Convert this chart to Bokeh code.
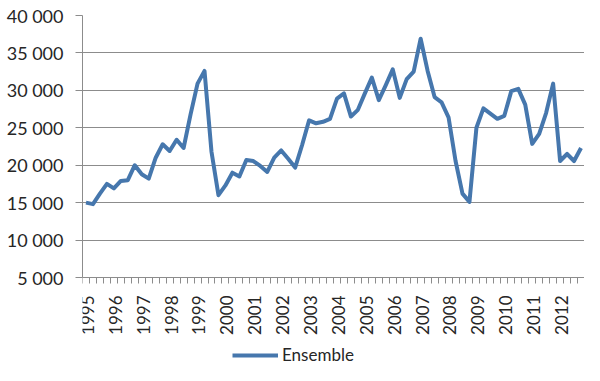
import math
from bokeh.plotting import figure
from bokeh.models import FixedTicker, Legend, LegendItem, Range1d
from bokeh.embed import file_html
from bokeh.resources import INLINE

# ---- data (quarterly, 1995 Q1 .. 2012 Q4) ----
years = list(range(1995, 2013))
quarters = ["T1", "T2", "T3", "T4"]
values = [
    15000, 14800, 16200, 17500,   # 1995
    16900, 17900, 18000, 20000,   # 1996
    18800, 18200, 21000, 22800,   # 1997
    21900, 23400, 22300, 26800,   # 1998
    30900, 32600, 21800, 16000,   # 1999
    17300, 19000, 18500, 20700,   # 2000
    20560, 19900, 19100, 21000,   # 2001
    21970, 20860, 19680, 22700,   # 2002
    26000, 25600, 25800, 26200,   # 2003
    28900, 29600, 26500, 27400,   # 2004
    29600, 31700, 28700, 30700,   # 2005
    32800, 29000, 31500, 32500,   # 2006
    36900, 32600, 29100, 28400,   # 2007
    26400, 20600, 16200, 15100,   # 2008
    25000, 27600, 26900, 26200,   # 2009
    26600, 29900, 30200, 28100,   # 2010
    22850, 24200, 27000, 30900,   # 2011
    20560, 21500, 20560, 22300,   # 2012
]
y_ticks = [5000, 10000, 15000, 20000, 25000, 30000, 35000, 40000]
series_name = "Ensemble"

n = len(years) * len(quarters)
x = list(range(n))

LINE = "#4677ad"
GRID = "#8c8c8c"
TXT = "#262626"
FONT = "Lato"

# layout (pixels): frame runs from TOP to the bottom of the figure; the value
# axis occupies the upper part, the area below hosts category labels + legend
W, H = 584, 365
LEFT, TOP, AXIS_Y = 82, 15, 277
ymin, ymax = y_ticks[0], y_ticks[-1]
per_px = (ymax - ymin) / (AXIS_Y - TOP)
y_start = ymin - (H - AXIS_Y) * per_px

p = figure(width=W, height=H, output_backend="svg", toolbar_location=None,
           x_range=Range1d(-0.5, n - 0.5), y_range=Range1d(y_start, ymax),
           min_border_left=LEFT, min_border_right=0, min_border_top=TOP,
           min_border_bottom=0)
p.outline_line_color = None
p.background_fill_color = "white"
p.border_fill_color = "white"

# x axis (category axis, sitting on the 5 000 line)
p.xgrid.visible = False
xa = p.xaxis[0]
xa.fixed_location = ymin
label_pos = [i * 4 + 0.2 for i in range(len(years))]
xa.ticker = FixedTicker(ticks=label_pos,
                        minor_ticks=[i - 0.5 for i in range(n + 1)])
xa.major_label_overrides = {pos: str(yr) for pos, yr in zip(label_pos, years)}
xa.major_label_orientation = math.pi / 2
xa.major_tick_out = 0
xa.major_tick_in = 0
xa.minor_tick_out = 6
xa.minor_tick_in = 0
xa.minor_tick_line_color = GRID
xa.axis_line_color = GRID
xa.major_label_standoff = 12
xa.major_label_text_font = FONT
xa.major_label_text_font_size = "17px"
xa.major_label_text_color = TXT

# y axis
ya = p.yaxis[0]
ya.bounds = (ymin, ymax)
ya.ticker = FixedTicker(ticks=y_ticks)
ya.major_label_overrides = {v: f"{v:,}".replace(",", "\u00a0") for v in y_ticks}
ya.major_tick_out = 7
ya.major_tick_in = 0
ya.minor_tick_out = 0
ya.minor_tick_in = 0
ya.major_tick_line_color = GRID
ya.axis_line_color = GRID
ya.major_label_standoff = 12
ya.major_label_text_font = FONT
ya.major_label_text_font_size = "18px"
ya.major_label_text_color = TXT
p.ygrid.ticker = FixedTicker(ticks=y_ticks)
p.ygrid.grid_line_color = GRID
p.ygrid.grid_line_width = 1

r = p.line(x, values, line_width=4, line_color=LINE, line_join="round")

legend = Legend(items=[LegendItem(label=series_name, renderers=[r])],
                location=(150, 0), padding=0, margin=0,
                glyph_width=46, glyph_height=16, label_height=16,
                label_standoff=4, border_line_color=None,
                background_fill_alpha=0,
                label_text_font=FONT, label_text_font_size="17px",
                label_text_color=TXT)
p.add_layout(legend)

open("out.html", "w").write(file_html(p, INLINE))
